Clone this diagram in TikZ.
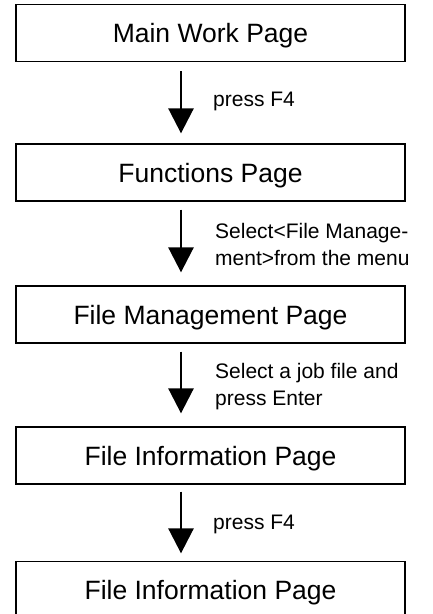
\documentclass[tikz,border=0pt]{standalone}
\usepackage{fontspec}
\setmainfont{Liberation Sans}
\usetikzlibrary{arrows.meta}

\begin{document}
\begin{tikzpicture}[x=1pt,y=-1pt,
  page/.style={draw,line width=1.3pt,minimum width=389pt,minimum height=57pt,
    inner sep=0pt,text height=19pt,text depth=0pt,font=\fontsize{26.5}{30}\selectfont},
  note/.style={anchor=base west,align=left,inner sep=0pt,font=\fontsize{21}{27}\selectfont},
  flow/.style={line width=2.7pt,-{Triangle[length=25pt,width=25pt]}}]
  \useasboundingbox (0,0) rectangle (432,614);

  \node[page] (p1) at (210.5,33) {Main Work Page};
  \node[page] (p2) at (210.5,172.5) {Functions Page};
  \node[page] (p3) at (210.5,314.5) {File Management Page};
  \node[page] (p4) at (210.5,455.5) {File Information Page};
  \node[page] (p5) at (210.5,590) {File Information Page};

  \coordinate (ax) at (181,0);

  \draw[flow,shorten <=9pt,shorten >=10pt] (p1.south -| ax) -- (p2.north -| ax);
  \draw[flow,shorten <=8pt,shorten >=13pt] (p2.south -| ax) -- (p3.north -| ax);
  \draw[flow,shorten <=8pt,shorten >=13pt] (p3.south -| ax) -- (p4.north -| ax);
  \draw[flow,shorten <=7pt,shorten >=7.5pt] (p4.south -| ax) -- (p5.north -| ax);

  % base anchor sits on the last line
  \node[note] (n1) at (213,106.5) {press F4};
  \node[note] (n2) at (215,265) {Select<File Manage-\\ment>from the menu};
  \node[note] (n3) at (215,405) {Select a job file and\\press Enter};
  \node[note] (n4) at (213,529) {press F4};

\end{tikzpicture}
\end{document}
